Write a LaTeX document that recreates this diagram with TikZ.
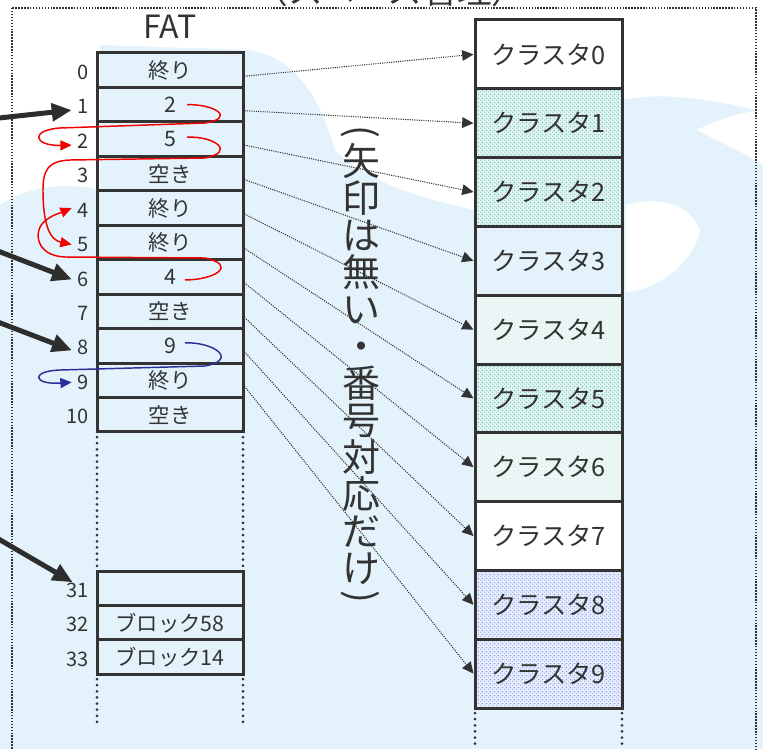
\documentclass[tikz,border=0pt]{standalone}
\usepackage{fontspec}
\setmainfont{Noto Sans CJK JP}
\usetikzlibrary{arrows.meta,calc,patterns.meta}
\definecolor{ink}{HTML}{333333}
\definecolor{bgblue}{HTML}{E4F3FB}
\definecolor{tealdot}{HTML}{45B5AC}
\definecolor{tealtint}{HTML}{E2F4F2}
\definecolor{paletealdot}{HTML}{B3E0DC}
\definecolor{paletint}{HTML}{F0F9F8}
\definecolor{bluedot}{HTML}{6A88F0}
\definecolor{bluetint}{HTML}{E6ECFC}
\definecolor{chainred}{HTML}{F20000}
\definecolor{chainblue}{HTML}{2B2F9A}
\tikzdeclarepattern{
  name=cdots,
  type=uncolored,
  bottom left={(0pt,0pt)},
  top right={(3pt,3pt)},
  tile size={(3pt,3pt)},
  code={
    \pgfpathcircle{\pgfpoint{0.75pt}{0.75pt}}{0.5pt}
    \pgfpathcircle{\pgfpoint{2.25pt}{2.25pt}}{0.5pt}
    \pgfusepath{fill}
  }
}
\tikzset{
  fatcell/.style={draw=ink, line width=2.25pt, minimum width=109.5pt, minimum height=25.84pt,
    inner sep=0pt, font=\fontsize{16}{16}\selectfont, text=ink},
  rowlab/.style={anchor=east, inner sep=1pt, font=\fontsize{15}{15}\selectfont, text=ink},
  clus/.style={draw=ink, line width=2.25pt, minimum width=110.25pt, minimum height=51.6pt,
    inner sep=0pt, font=\fontsize{19}{19}\selectfont, text=ink},
  cplain/.style={clus},
  cwhite/.style={clus, fill=white},
  cteal/.style={clus, preaction={fill=tealtint}, pattern=cdots, pattern color=tealdot},
  cpale/.style={clus, preaction={fill=paletint}, pattern=cdots, pattern color=paletealdot},
  cblue/.style={clus, preaction={fill=bluetint}, pattern=cdots, pattern color=bluedot},
  link/.style={draw=ink, line width=0.8pt, dash pattern=on 0.8pt off 0.9pt,
    -{Triangle[length=8.5pt,width=8pt]}},
  heavy/.style={draw=ink!90!black, line width=3.75pt, -{Triangle[length=15pt,width=13pt]}},
  chain/.style={line width=1.1pt, -{Triangle[length=8.5pt,width=7.5pt]}},
  bigdots/.style={draw=ink, line width=2.25pt, line cap=round, dash pattern=on 0pt off 4.6pt},
  frame/.style={draw=ink, line width=1.1pt, dash pattern=on 1.1pt off 1.1pt},
  notefont/.style={font=\fontsize{28.5}{27.75}\selectfont, text=ink, inner sep=0pt}
}
\begin{document}
\begin{tikzpicture}[x=0.75pt,y=-0.75pt]
\useasboundingbox (0,0) rectangle (763,749);
\clip (0,0) rectangle (763,749);
% background watermark (approximate)
\fill[bgblue] (0,0) rectangle (763,749);
\fill[white] (0,0) -- (763,0) -- (763,112) .. controls (710,98) and (660,92) .. (622,100)
  -- (622,40) -- (475,40) -- (475,210) .. controls (430,200) and (370,185) .. (335,150)
  .. controls (320,100) and (300,60) .. (250,50) -- (100,45) -- (100,190)
  .. controls (60,180) and (20,190) .. (0,205) -- cycle;
\fill[white] (697,130) .. controls (720,118) and (745,112) .. (763,110) -- (763,165)
  .. controls (740,150) and (715,140) .. (697,130) -- cycle;
\fill[white] (626,205) .. controls (660,195) and (690,205) .. (700,230)
  .. controls (695,260) and (660,290) .. (626,292) -- cycle;

% outer frame and partial title
\draw[frame] (12,8) rectangle (756,780);
\node[anchor=base, inner sep=0pt, font=\fontsize{26}{26}\selectfont, text=ink] (toptitle) at (390,4) {（スペース管理）};

% FAT
\node[font=\fontsize{24}{24}\selectfont, text=ink, inner sep=0pt] (fattitle) at (170,27) {FAT};
\foreach \i/\t in {0/終り,1/2,2/5,3/空き,4/終り,5/終り,6/4,7/空き,8/9,9/終り,10/空き}{
  \node[fatcell] (f\i) at (170,{53+34.45*(\i+0.5)}) {\t};
  \node[rowlab] (l\i) at (90,{53+34.45*(\i+0.5)+2}) {\i};
}
\node[fatcell] (f31) at (170,{571+34.45*0.5}) {};
\node[fatcell] (f32) at (170,{571+34.45*1.5}) {ブロック58};
\node[fatcell] (f33) at (170,{571+34.45*2.5}) {ブロック14};
\node[rowlab] (l31) at (90,{571+34.45*0.5+2}) {31};
\node[rowlab] (l32) at (90,{571+34.45*1.5+2}) {32};
\node[rowlab] (l33) at (90,{571+34.45*2.5+2}) {33};
\draw[bigdots] (97,437) -- (97,567);
\draw[bigdots] (243,437) -- (243,567);
\draw[bigdots] (97,679) -- (97,722);
\draw[bigdots] (243,679) -- (243,722);

% clusters
\foreach \i/\s in {0/cwhite,1/cteal,2/cteal,3/cplain,4/cpale,5/cteal,6/cpale,7/cwhite,8/cblue,9/cblue}{
  \node[\s] (c\i) at (548.5,{20+68.8*(\i+0.5)}) {クラスタ\i};
}
\draw[bigdots] (475,713) -- (475,745);
\draw[bigdots] (622,713) -- (622,745);

% dotted correspondences
\foreach \i in {0,...,9}{
  \draw[link] ($(f\i.east)+(0,6)$) -- (c\i.west);
}

% vertical note
\node[notefont, align=center] (note) at (361,364)
  {矢\\印\\は\\無\\い\\・\\番\\号\\対\\応\\だ\\け};
\node[notefont, rotate=-90] (noteopen) at (360,132) {(};
\node[notefont, rotate=-90] (noteclose) at (360,597) {)};

% directory entries pointing into FAT
\coordinate (s1) at (-10,119);
\coordinate (s6) at (-10,248);
\coordinate (s8) at (-10,319);
\coordinate (s31) at (-10,534);
\draw[heavy, shorten >=3pt] (s1) -- ($(l1.west)+(0,3)$);
\draw[heavy, shorten >=3pt] (s6) -- ($(l6.west)+(0,2)$);
\draw[heavy, shorten >=3pt] (s8) -- ($(l8.west)+(0,4)$);
\draw[heavy] (s31) -- ($(l31.west)+(8,-8)$);

% chains
\draw[chain, chainred] ($(f1.center)+(17,0)$) .. controls (215,104) and (236,118) .. (205,123)
  -- (60,128) .. controls (30,130) and (33,146) .. ($(l2.west)+(-4,4)$);
\draw[chain, chainred] ($(f2.center)+(17,-2)$) .. controls (215,136) and (236,152) .. (205,158)
  -- (70,160) .. controls (48,161) and (43,170) .. (43,190)
  .. controls (43,225) and (50,240) .. ($(l5.west)+(-4,0)$);
\draw[chain, chainred] ($(f6.center)+(15,3)$) .. controls (215,280) and (238,265) .. (205,258)
  -- (65,257) .. controls (35,256) and (33,230) .. (45,221)
  .. controls (52,215) and (60,213) .. ($(l4.west)+(-4,-2)$);
\draw[chain, chainblue] ($(f8.center)+(15,-3)$) .. controls (215,342) and (238,360) .. (205,366)
  -- (60,370) .. controls (30,371) and (33,385) .. ($(l9.west)+(-4,0)$);
\end{tikzpicture}
\end{document}
